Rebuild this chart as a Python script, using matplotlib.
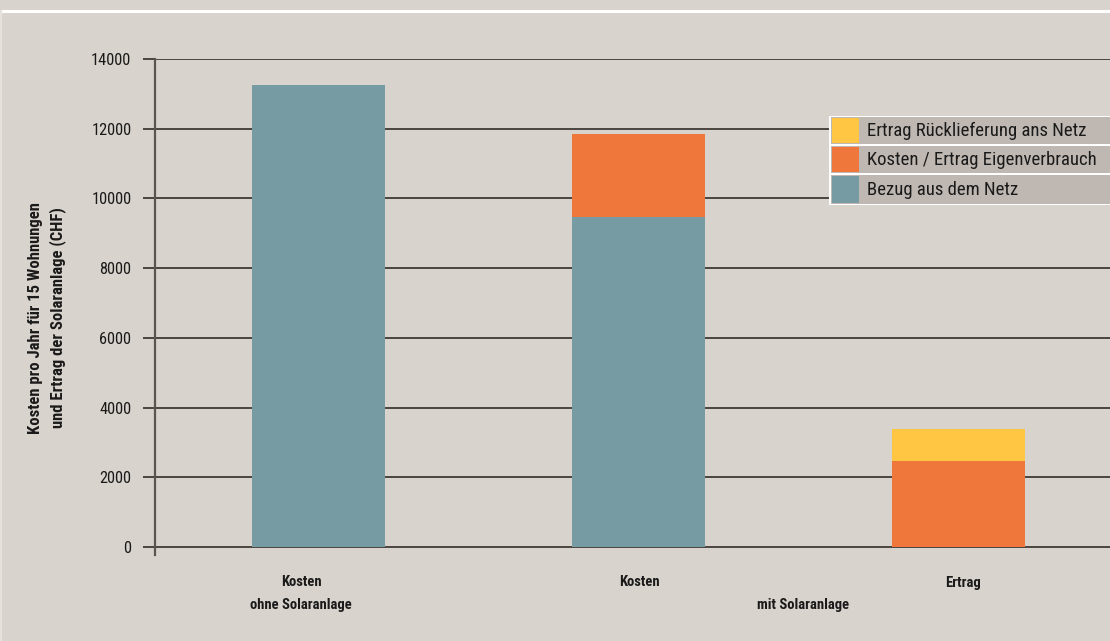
import matplotlib
matplotlib.use("Agg")
import matplotlib.pyplot as plt
import matplotlib.transforms as mtrans
from matplotlib import font_manager as fm
from matplotlib.patches import Rectangle
from matplotlib.lines import Line2D

# ---- data ----
categories = ["Kosten\nohne Solaranlage", "Kosten", "Ertrag"]
bezug_netz = [13250, 9470, 0]
eigenverbrauch = [0, 2380, 2470]
ruecklieferung = [0, 0, 915]
series_labels = ["Ertrag Rücklieferung ans Netz", "Kosten / Ertrag Eigenverbrauch", "Bezug aus dem Netz"]
yticks = [0, 2000, 4000, 6000, 8000, 10000, 12000, 14000]
group_label = "mit Solaranlage"
ylabel = "Kosten pro Jahr für 15 Wohnungen\nund Ertrag der Solaranlage (CHF)"

# ---- font choice: prefer a condensed sans ----
names = {f.name for f in fm.fontManager.ttflist}
STRETCH = "normal"
FONT = "DejaVu Sans"
for cand in ["Liberation Sans Narrow", "Roboto Condensed", "Open Sans Condensed", "DejaVu Sans Condensed"]:
    if cand in names:
        FONT = cand
        break
else:
    cond = [f for f in fm.fontManager.ttflist
            if str(f.stretch) in ("condensed", "semi-condensed", "extra-condensed", "500", "300", "400")
            and str(f.stretch) != "normal"]
    for pref in ["Roboto", "Open Sans", "DejaVu Sans", "Noto Sans"]:
        if any(f.name == pref for f in cond):
            FONT = pref
            STRETCH = "condensed"
            break
plt.rcParams["font.family"] = [FONT, "DejaVu Sans"]
plt.rcParams["font.stretch"] = STRETCH

BG = "#d9d3cd"
TEAL = "#769ba2"
ORANGE = "#ef773b"
YELLOW = "#fec643"
GRID = "#4a4540"
LEG_BG = "#bfb8b2"
TXT = "#1a1a1a"

W, H = 1110, 641
fig = plt.figure(figsize=(W / 100, H / 100), dpi=100, facecolor=BG)
renderer = fig.canvas.get_renderer()


def fit_size(text, target_px, **kw):
    t = fig.text(0, 0, text, fontsize=10, **kw)
    w = t.get_window_extent(renderer=renderer).width
    t.remove()
    return 10 * target_px / w


def fx(px):
    return px / W


def fy(py):
    return 1 - py / H


# decorative frame lines
fig.add_artist(Line2D([fx(2), 1], [fy(11), fy(11)], color="white", lw=2.2))
fig.add_artist(Line2D([fx(1), fx(1)], [fy(11), 0], color="#e6e1dc", lw=1.5))

ax = fig.add_axes([fx(155), fy(555), 1 - fx(155), fy(59) - fy(555)])
ax.set_facecolor(BG)

x = [0, 1, 2]
width = 133 / 320
ax.bar(x, bezug_netz, width, color=TEAL, zorder=3)
ax.bar(x, eigenverbrauch, width, bottom=bezug_netz, color=ORANGE, zorder=3)
bot2 = [a + b for a, b in zip(bezug_netz, eigenverbrauch)]
ax.bar(x, ruecklieferung, width, bottom=bot2, color=YELLOW, zorder=3)

ax.set_xlim((155 - 318.5) / 320, (1110 - 318.5) / 320)
ax.set_ylim(-230, 14000)

tick_fs = min(fit_size("14000", 40), 12.5)
ax.set_yticks(yticks)
ax.set_yticklabels([str(t) for t in yticks], fontsize=tick_fs, color=TXT)
ax.yaxis.grid(True, color=GRID, lw=1.4, zorder=1)
ax.tick_params(axis="y", length=9, width=1.4, color=GRID, pad=8)
ax.set_xticks([])
for s in ["top", "right", "bottom"]:
    ax.spines[s].set_visible(False)
ax.spines["left"].set_color("#5a5550")
ax.spines["left"].set_linewidth(1.6)
ax.set_axisbelow(True)

# category labels (one text per line)
cat_fs = min(1.18 * fit_size("ohne Solaranlage", 86, fontweight="bold"), 11)
btf = mtrans.blended_transform_factory(ax.transData, fig.transFigure)
label_px = [301, 639, 963]
for lp, cat in zip(label_px, categories):
    for i, line in enumerate(cat.split("\n")):
        ax.text((lp - 318.5) / 320, fy(581 + 22 * i), line, transform=btf,
                ha="center", va="center_baseline", fontsize=cat_fs, fontweight="bold", color=TXT)
ax.text((803 - 318.5) / 320, fy(603), group_label, transform=btf,
        ha="center", va="center_baseline", fontsize=cat_fs, fontweight="bold", color=TXT)

# y label
yl_fs = min(1.07 * fit_size("Kosten pro Jahr für 15 Wohnungen", 222, fontweight="bold"), 12)
fig.text(fx(47), fy(318), ylabel, rotation=90, ha="center", va="center",
         fontsize=yl_fs, fontweight="bold", color=TXT, linespacing=1.5)

# legend (custom drawn)
leg_fs = min(fit_size(series_labels[0], 221), 13.5)
rows = [(116, 145), (145, 174), (174, 205)]
colors = [YELLOW, ORANGE, TEAL]
fig.add_artist(Rectangle((fx(829), fy(205)), 1 - fx(829), fy(116) - fy(205),
                         transform=fig.transFigure, facecolor="white", edgecolor="none", zorder=5))
for (t, b), c, lab in zip(rows, colors, series_labels):
    fig.add_artist(Rectangle((fx(830.5), fy(b - 1)), 1 - fx(830.5), fy(t + 1) - fy(b - 1),
                             transform=fig.transFigure, facecolor=LEG_BG, edgecolor="none", zorder=6))
    fig.add_artist(Rectangle((fx(832), fy(b - 2)), fx(859) - fx(832), fy(t + 2) - fy(b - 2),
                             transform=fig.transFigure, facecolor=c, edgecolor="none", zorder=7))
    fig.text(fx(867), fy((t + b) / 2 + 0.5), lab, ha="left", va="center",
             fontsize=leg_fs, color=TXT, zorder=8)

fig.savefig("out.png", dpi=100, facecolor=BG)
